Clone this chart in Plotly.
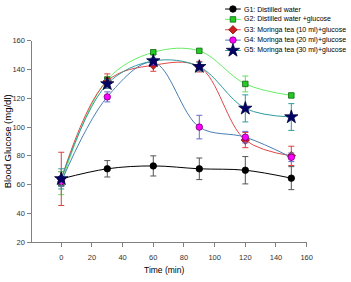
import plotly.graph_objects as go

W, H = 351, 282

time_min = [0, 30, 60, 90, 120, 150]
series_names = [
    "G1: Distilled water",
    "G2: Distilled water +glucose",
    "G3: Moringa tea (10 ml)+glucose",
    "G4: Moringa tea (20 ml)+glucose",
    "G5: Moringa tea (30 ml)+glucose",
]
g1 = [64, 71, 73, 71, 70, 64.5]
g1_err = [5, 5.7, 7, 7.5, 9.5, 8]
g2 = [61, 133, 152, 153, 130, 122]
g2_err = [8, 2, 1.5, 1, 5.5, 1.5]
g3 = [64, 132, 143, 142, 91, 80]
g3_err = [18.5, 5, 4.2, 3.7, 5.3, 6.7]
g4 = [62, 121, 145, 100, 93, 79]
g4_err = [3, 3.5, 2, 8.2, 4, 3]
g5 = [64, 130, 146, 142, 113, 107]
g5_err = [7, 3, 2, 3, 9.4, 9.3]

x_ticks = [0, 20, 40, 60, 80, 100, 120, 140, 160]
y_ticks = [20, 40, 60, 80, 100, 120, 140, 160]

values = [g1, g2, g3, g4, g5]
errors = [g1_err, g2_err, g3_err, g4_err, g5_err]

styles = [
    dict(line="#000000", err="#555555", symbol="circle", fill="#000000", edge="#000000", size=6.5),
    dict(line="#66ee66", err="#66dd66", symbol="square", fill="#22cc22", edge="#116611", size=5.5),
    dict(line="#e04848", err="#d84040", symbol="diamond", fill="#cc2020", edge="#801010", size=6.5),
    dict(line="#4a7fb5", err="#6a6ad0", symbol="circle", fill="#ff00ff", edge="#700070", size=6.5),
    dict(line="#2e9c9c", err="#339999", symbol="star", fill="#000066", edge="#000044", size=10),
]

FONT = "Liberation Sans, Arial, sans-serif"

# pixel layout of plot area
L, R, T, B = 33, 312, 38, 246

fig = go.Figure()
for name, vals, errs, st in zip(series_names, values, errors, styles):
    fig.add_trace(go.Scatter(
        x=time_min, y=vals, name=name, mode="lines+markers",
        line=dict(color=st["line"], width=1, shape="spline", smoothing=1.0),
        marker=dict(symbol=st["symbol"], size=st["size"], color=st["fill"],
                    line=dict(color=st["edge"], width=0.8)),
        error_y=dict(type="data", array=errs, visible=True, color=st["err"],
                     thickness=1, width=3),
        showlegend=False, xaxis="x", yaxis="y", cliponaxis=False,
    ))

# custom compact legend drawn on a pixel-coordinate overlay axis
leg_line_x0, leg_line_x1, leg_marker_x, leg_text_x = 229, 245, 237, 246
leg_y0, leg_dy = 5.2, 10.7
for i, (name, st) in enumerate(zip(series_names, styles)):
    yy = leg_y0 + i * leg_dy
    fig.add_trace(go.Scatter(
        x=[leg_line_x0, leg_line_x1], y=[yy, yy], mode="lines",
        line=dict(color=st["line"], width=1), showlegend=False,
        xaxis="x2", yaxis="y2", hoverinfo="skip", cliponaxis=False,
    ))
    fig.add_trace(go.Scatter(
        x=[leg_marker_x], y=[yy], mode="markers",
        marker=dict(symbol=st["symbol"], size=st["size"], color=st["fill"],
                    line=dict(color=st["edge"], width=0.8)),
        showlegend=False, xaxis="x2", yaxis="y2", hoverinfo="skip", cliponaxis=False,
    ))
    fig.add_annotation(x=leg_text_x, y=yy, xref="x2", yref="y2", text=name,
                       showarrow=False, xanchor="left", yanchor="middle",
                       font=dict(family=FONT, size=7.0, color="#000000"))

axis_common = dict(showgrid=False, zeroline=False, showline=True, linecolor="#808080",
                   linewidth=1, ticks="outside", ticklen=4, tickcolor="#808080",
                   tickfont=dict(family=FONT, size=7.5, color="#333333"))

fig.update_layout(
    width=W, height=H,
    margin=dict(l=0, r=0, t=0, b=0),
    paper_bgcolor="white", plot_bgcolor="rgba(0,0,0,0)",
    xaxis=dict(domain=[L / W, R / W], range=[-18.8, 160], tickvals=x_ticks,
               anchor="y", ticklabelstandoff=4, **axis_common),
    yaxis=dict(domain=[1 - B / H, 1 - T / H], range=[20, 160], tickvals=y_ticks,
               anchor="x", ticklabelstandoff=1, **axis_common),
    xaxis2=dict(domain=[0, 1], range=[0, W], visible=False, anchor="y2", fixedrange=True),
    yaxis2=dict(domain=[0, 1], range=[H, 0], visible=False, anchor="x2", fixedrange=True),
    showlegend=False,
)

fig.add_annotation(x=167 / W, y=1 - 275 / H, xref="paper", yref="paper",
                   text="Time (min)", showarrow=False, xanchor="center", yanchor="middle",
                   font=dict(family=FONT, size=8.5, color="#000000"))
fig.add_annotation(x=8 / W, y=1 - 142 / H, xref="paper", yref="paper",
                   text="Blood Glucose (mg/dl)", showarrow=False, textangle=-90,
                   xanchor="center", yanchor="middle",
                   font=dict(family=FONT, size=9.5, color="#000000"))

fig.write_html("out.html")
